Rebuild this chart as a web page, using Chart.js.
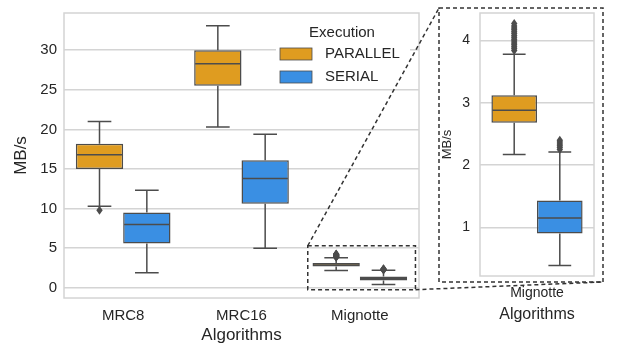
<!DOCTYPE html>
<html>
<head>
<meta charset="utf-8">
<script src="https://cdn.jsdelivr.net/npm/chart.js@4.4.1/dist/chart.umd.min.js"></script>
<style>
  html, body { margin: 0; padding: 0; background: #fff; }
  #wrap { position: relative; width: 624px; height: 349px; }
  #mainChart { position: absolute; left: 0; top: 0; }
  #insetChart { position: absolute; left: 430px; top: 0; }
</style>
</head>
<body>
<div id="wrap">
  <canvas id="mainChart" width="624" height="349"></canvas>
  <canvas id="insetChart" width="194" height="349"></canvas>
</div>
<script>
// datos de las cajas (MB/s)
const categories = ['MRC8', 'MRC16', 'Mignotte'];
const seriesNames = ['PARALLEL', 'SERIAL'];

const parallelQ1 = [15.0, 25.5, 2.68];
const parallelQ3 = [18.2, 30.0, 3.12];
const parallelMedian = [16.8, 28.3, 2.88];
const parallelLow = [10.3, 20.3, 2.17];
const parallelHigh = [21.0, 33.1, 3.78];
const parallelOutliers = [[9.8], [], [3.84, 3.87, 3.9, 3.93, 3.96, 3.99, 4.02, 4.05, 4.08, 4.11, 4.14, 4.17, 4.2, 4.23, 4.27]];

const serialQ1 = [5.6, 10.6, 0.9];
const serialQ3 = [9.5, 16.1, 1.43];
const serialMedian = [8.0, 13.8, 1.15];
const serialLow = [1.9, 5.0, 0.39];
const serialHigh = [12.3, 19.4, 2.21];
const serialOutliers = [[], [], [2.25, 2.28, 2.31, 2.34, 2.37, 2.4]];

const mainTicks = [0, 5, 10, 15, 20, 25, 30];
const insetTicks = [1, 2, 3, 4];

const parallelColor = '#DF9C20';
const serialColor = '#3A8FE3';
const edgeColor = '#4c4c4c';
const gridColor = '#d4d4d4';
const textColor = '#262626';
const family = '"Liberation Sans", Arial, sans-serif';

const parallel = { q1: parallelQ1, q3: parallelQ3, med: parallelMedian, lo: parallelLow, hi: parallelHigh, out: parallelOutliers };
const serial = { q1: serialQ1, q3: serialQ3, med: serialMedian, lo: serialLow, hi: serialHigh, out: serialOutliers };

function makeDatasets(idx) {
    return [
        { label: seriesNames[0], stats: parallel, color: parallelColor },
        { label: seriesNames[1], stats: serial, color: serialColor }
    ].map(s => ({
        label: s.label,
        data: idx.map(i => [s.stats.q1[i], s.stats.q3[i]]),
        src: idx,
        stats: s.stats,
        backgroundColor: s.color,
        borderColor: edgeColor,
        borderWidth: 1.5,
        borderSkipped: false,
        categoryPercentage: 0.8,
        barPercentage: 1.0
    }));
}

// bigotes, medianas y atípicos
const boxExtras = {
    id: 'boxExtras',
    beforeDatasetsDraw(chart) {
        const a = chart.chartArea;
        const ctx = chart.ctx;
        ctx.save();
        ctx.strokeStyle = gridColor;
        ctx.lineWidth = 1.5;
        ctx.strokeRect(a.left, a.top, a.right - a.left, a.bottom - a.top);
        ctx.restore();
    },
    afterDatasetsDraw(chart) {
        const ctx = chart.ctx;
        const y = chart.scales.y;
        ctx.save();
        ctx.strokeStyle = edgeColor;
        ctx.fillStyle = edgeColor;
        ctx.lineWidth = 1.5;
        chart.data.datasets.forEach((ds, di) => {
            const meta = chart.getDatasetMeta(di);
            meta.data.forEach((bar, j) => {
                const i = ds.src[j];
                const s = ds.stats;
                const half = bar.width / 2;
                const x = bar.x;
                ctx.beginPath();
                ctx.moveTo(x, y.getPixelForValue(s.q3[i]));
                ctx.lineTo(x, y.getPixelForValue(s.hi[i]));
                ctx.moveTo(x - half / 2, y.getPixelForValue(s.hi[i]));
                ctx.lineTo(x + half / 2, y.getPixelForValue(s.hi[i]));
                ctx.moveTo(x, y.getPixelForValue(s.q1[i]));
                ctx.lineTo(x, y.getPixelForValue(s.lo[i]));
                ctx.moveTo(x - half / 2, y.getPixelForValue(s.lo[i]));
                ctx.lineTo(x + half / 2, y.getPixelForValue(s.lo[i]));
                ctx.moveTo(x - half + 1, y.getPixelForValue(s.med[i]));
                ctx.lineTo(x + half - 1, y.getPixelForValue(s.med[i]));
                ctx.stroke();
                s.out[i].forEach(v => {
                    const py = y.getPixelForValue(v);
                    ctx.beginPath();
                    ctx.moveTo(x, py - 4.5);
                    ctx.lineTo(x + 3.2, py);
                    ctx.lineTo(x, py + 4.5);
                    ctx.lineTo(x - 3.2, py);
                    ctx.closePath();
                    ctx.fill();
                });
            });
        });
        ctx.restore();
    }
};

// leyenda y recuadros punteados del zoom
const mainDecor = {
    id: 'mainDecor',
    afterDraw(chart) {
        const ctx = chart.ctx;
        const a = chart.chartArea;
        const xs = chart.scales.x;
        const ys = chart.scales.y;
        ctx.save();
        ctx.fillStyle = '#fff';
        ctx.fillRect(276, 20, 134, 67);
        ctx.fillStyle = textColor;
        ctx.font = '15px ' + family;
        ctx.textBaseline = 'middle';
        ctx.textAlign = 'center';
        ctx.fillText('Execution', 342, 33);
        ctx.textAlign = 'left';
        [[parallelColor, 48, 54], [serialColor, 71, 77]].forEach((p, k) => {
            ctx.fillStyle = p[0];
            ctx.fillRect(280, p[1], 32, 12);
            ctx.strokeStyle = edgeColor;
            ctx.lineWidth = 0.8;
            ctx.strokeRect(280, p[1], 32, 12);
            ctx.fillStyle = textColor;
            ctx.fillText(seriesNames[k], 325, p[2]);
        });

        const catW = (a.right - a.left) / categories.length;
        const cx = xs.getPixelForValue(2);
        const sx0 = cx - 0.44 * catW, sx1 = cx + 0.47 * catW;
        const sy0 = ys.getPixelForValue(5.3), sy1 = ys.getPixelForValue(-0.25);
        const big = [439, 8, 603, 282];
        ctx.strokeStyle = '#333';
        ctx.lineWidth = 1.5;
        ctx.setLineDash([4, 3]);
        ctx.strokeRect(sx0, sy0, sx1 - sx0, sy1 - sy0);
        ctx.strokeRect(big[0], big[1], big[2] - big[0], big[3] - big[1]);
        ctx.beginPath();
        ctx.moveTo(sx0, sy0);
        ctx.lineTo(big[0], big[1]);
        ctx.moveTo(sx1, sy1);
        ctx.lineTo(big[2], big[3]);
        ctx.stroke();
        ctx.restore();
    }
};

function makeOptions(o) {
    return {
        responsive: false,
        animation: false,
        devicePixelRatio: 1,
        layout: { padding: o.padding },
        plugins: { legend: { display: false }, tooltip: { enabled: false } },
        scales: {
            x: {
                grid: { display: false, drawTicks: false },
                border: { display: false },
                ticks: { color: textColor, font: { family: family, size: o.xTickSize }, padding: o.xTickPad },
                title: { display: true, text: 'Algorithms', color: textColor, font: { family: family, size: o.xTitleSize }, padding: { top: 0, bottom: o.xTitlePad } },
                afterFit: s => { s.height = o.xHeight; s.paddingLeft = 0; s.paddingRight = 0; }
            },
            y: {
                min: o.yMin,
                max: o.yMax,
                afterBuildTicks: s => { s.ticks = o.yTicks.map(v => ({ value: v })); },
                grid: { color: gridColor, lineWidth: 1.5, drawTicks: false },
                border: { display: false },
                ticks: { color: textColor, font: { family: family, size: o.yTickSize }, padding: o.yTickPad },
                title: { display: true, text: 'MB/s', color: textColor, font: { family: family, size: o.yTitleSize }, padding: { top: o.yTitlePad, bottom: 0 } },
                afterFit: s => { s.width = o.yWidth; s.paddingTop = 0; s.paddingBottom = 0; }
            }
        }
    };
}

const mainChart = new Chart(document.getElementById('mainChart'), {
    type: 'bar',
    data: { labels: categories, datasets: makeDatasets([0, 1, 2]) },
    options: makeOptions({
        padding: { left: 0, top: 13, right: 205, bottom: 0 },
        xHeight: 51, yWidth: 64,
        yMin: -1.3, yMax: 34.7, yTicks: mainTicks,
        xTickSize: 15, xTickPad: 9, xTitleSize: 17, xTitlePad: 3,
        yTickSize: 15, yTickPad: 7, yTitleSize: 17, yTitlePad: 11
    }),
    plugins: [boxExtras, mainDecor]
});

const insetChart = new Chart(document.getElementById('insetChart'), {
    type: 'bar',
    data: { labels: [categories[2]], datasets: makeDatasets([2]) },
    options: makeOptions({
        padding: { left: 0, top: 13, right: 30, bottom: 0 },
        xHeight: 73, yWidth: 50,
        yMin: 0.22, yMax: 4.44, yTicks: insetTicks,
        xTickSize: 14, xTickPad: 9, xTitleSize: 16, xTitlePad: 25,
        yTickSize: 14, yTickPad: 10, yTitleSize: 13, yTitlePad: 10
    }),
    plugins: [boxExtras]
});
</script>
</body>
</html>
